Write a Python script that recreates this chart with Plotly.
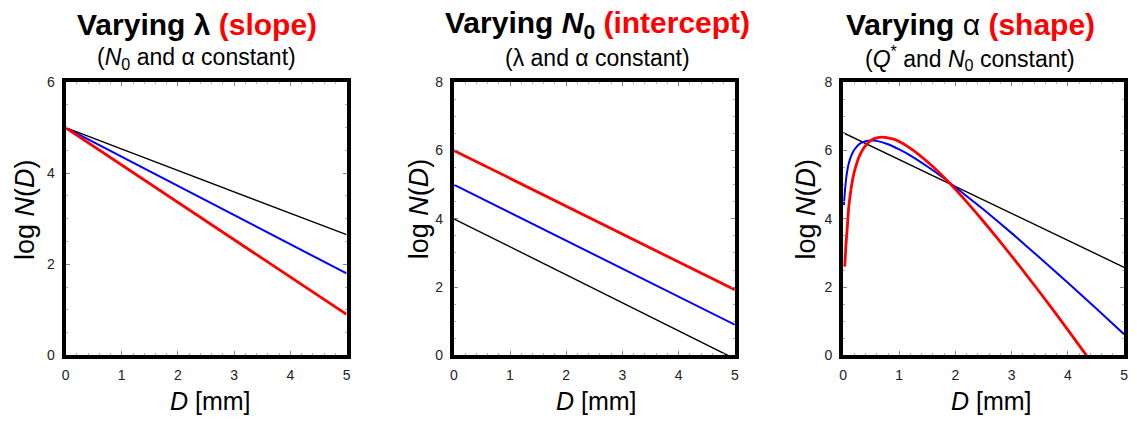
import plotly.graph_objects as go

# ---- data ----
D_line = [0, 5]

# Panel 1: varying lambda (slope)
p1_black = [5.0, 2.65]
p1_blue = [5.0, 1.8]
p1_red = [5.0, 0.9]

# Panel 2: varying N0 (intercept)
p2_red = [6.0, 1.92]
p2_blue = [5.0, 0.9]
p2_black = [4.0, -0.1]

# Panel 3: varying alpha (shape)
p3_black = [6.52, 2.58]
D_blue = [0.015, 0.03, 0.06, 0.1, 0.15, 0.2, 0.3, 0.4, 0.5, 0.6, 0.8, 1.0, 1.2,
          1.5, 1.75, 2.0, 2.5, 3.0, 3.5, 4.0, 4.5, 5.0]
p3_blue = [4.4, 4.75, 5.24, 5.61, 5.86, 6.02, 6.20, 6.27, 6.29, 6.28, 6.18, 6.03, 5.85,
           5.53, 5.24, 4.92, 4.27, 3.58, 2.86, 2.13, 1.38, 0.62]
D_red = [0.03, 0.05, 0.08, 0.1, 0.15, 0.2, 0.3, 0.4, 0.5, 0.6, 0.7, 0.8, 0.9, 1.0, 1.2,
         1.5, 1.75, 2.0, 2.5, 3.0, 3.5, 4.0, 4.33]
p3_red = [2.6, 3.2, 3.85, 4.32, 4.96, 5.37, 5.87, 6.14, 6.30, 6.37, 6.39, 6.37, 6.33, 6.26, 6.06,
          5.67, 5.29, 4.86, 3.92, 2.91, 1.85, 0.75, 0.0]

x_ticks = [0, 1, 2, 3, 4, 5]
y_ranges = [[0, 6], [0, 8], [0, 8]]
y_dticks = [2, 2, 2]

titles = ["<b>Varying λ <span style='color:#ff0000'>(slope)</span></b>",
          "<b>Varying <i>N</i><sub>0</sub> <span style='color:#ff0000'>(intercept)</span></b>",
          "<b>Varying </b>α<b> <span style='color:#ff0000'>(shape)</span></b>"]
subtitles = ["(<i>N</i><sub>0</sub> and α constant)",
             "(λ and α constant)",
             "(<i>Q</i><sup>*</sup> and <i>N</i><sub>0</sub> constant)"]
xlabel = "<i>D</i> [mm]"
ylabel = "log <i>N</i>(<i>D</i>)"

W, H = 1137, 426
FONT = "Liberation Sans, Arial, sans-serif"

# panel pixel geometry
panels_px = [(62, 345), (453, 736), (845, 1128)]
top_px, bot_px = 77, 361
title_cx = [194, 598, 973]
xlab_cx = [208, 597, 995]
ylab_cx = [21, 418, 808]

fig = go.Figure()

def add(xs, ys, color, width, k):
    ax = "" if k == 0 else str(k + 1)
    fig.add_trace(go.Scatter(x=xs, y=ys, mode="lines",
                             line=dict(color=color, width=width, shape="spline", smoothing=0.4),
                             xaxis="x" + ax, yaxis="y" + ax, showlegend=False,
                             cliponaxis=True, hoverinfo="skip"))

add(D_line, p1_black, "#000000", 1.4, 0)
add(D_line, p1_blue, "#0000ff", 2.0, 0)
add(D_line, p1_red, "#ff0000", 2.8, 0)

add(D_line, p2_black, "#000000", 1.4, 1)
add(D_line, p2_blue, "#0000ff", 2.0, 1)
add(D_line, p2_red, "#ff0000", 2.8, 1)

add(D_line, p3_black, "#000000", 1.4, 2)
add(D_blue, p3_blue, "#0000ff", 2.0, 2)
add(D_red, p3_red, "#ff0000", 2.8, 2)

layout = dict(width=W, height=H, margin=dict(l=0, r=0, t=0, b=0),
              paper_bgcolor="white", plot_bgcolor="white",
              font=dict(family=FONT, color="#000"))

for k in range(3):
    ax = "" if k == 0 else str(k + 1)
    x0, x1 = panels_px[k]
    common = dict(showline=True, linewidth=4, linecolor="#000", mirror="allticks",
                  ticks="inside", ticklen=4, tickwidth=1, tickcolor="#888",
                  showgrid=False, zeroline=False, ticklabelstandoff=4,
                  tickfont=dict(family=FONT, size=14, color="#222"))
    layout["xaxis" + ax] = dict(domain=[x0 / W, x1 / W], range=[0, 5],
                                tickvals=x_ticks, anchor="y" + ax,
                                minor=dict(ticks="inside", ticklen=2, tickcolor="#aaa", dtick=0.2, showgrid=False),
                                **common)
    layout["yaxis" + ax] = dict(domain=[1 - bot_px / H, 1 - top_px / H], range=y_ranges[k],
                                dtick=y_dticks[k], anchor="x" + ax,
                                minor=dict(ticks="inside", ticklen=2, tickcolor="#aaa", dtick=0.5, showgrid=False),
                                **common)

fig.update_layout(**layout)

for k in range(3):
    fig.add_annotation(text=titles[k], x=title_cx[k] / W, y=1 - 17 / H, xref="paper", yref="paper",
                       xanchor="center", yanchor="middle", showarrow=False,
                       font=dict(family=FONT, size=30, color="#000"))
    fig.add_annotation(text=subtitles[k], x=title_cx[k] / W, y=1 - 52 / H, xref="paper", yref="paper",
                       xanchor="center", yanchor="middle", showarrow=False,
                       font=dict(family=FONT, size=23, color="#000"))
    fig.add_annotation(text=xlabel, x=xlab_cx[k] / W, y=1 - 408 / H, xref="paper", yref="paper",
                       xanchor="center", yanchor="middle", showarrow=False,
                       font=dict(family=FONT, size=25, color="#000"))
    fig.add_annotation(text=ylabel, x=ylab_cx[k] / W, y=1 - 209 / H, xref="paper", yref="paper",
                       xanchor="center", yanchor="middle", showarrow=False, textangle=-90,
                       font=dict(family=FONT, size=27, color="#000"))

fig.write_html("out.html")
